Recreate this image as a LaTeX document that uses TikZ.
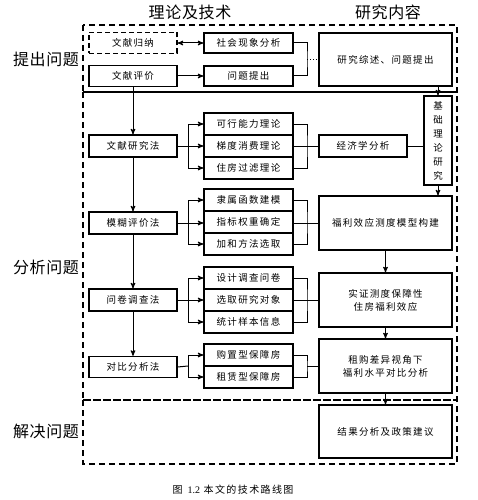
\documentclass[tikz,border=0pt]{standalone}
\usepackage{fontspec}
\setmainfont{Liberation Serif}
\newfontfamily\cjk[LetterSpace=14]{Noto Sans CJK SC}
\newfontfamily\cjkwide[LetterSpace=4]{Noto Sans CJK SC}
\newfontfamily\cjkplain{Noto Sans CJK SC}
\usetikzlibrary{arrows}

\begin{document}
\begin{tikzpicture}[x=1pt,y=-1pt,->,>=stealth',line width=1pt,
  main node/.style={rectangle,draw,line width=1.2pt,fill=white,
    font=\cjk\fontsize{9.5}{13}\selectfont,align=center,inner sep=0pt,
    minimum height=21pt},
  left node/.style={main node,minimum width=88pt},
  mid node/.style={main node,minimum width=89pt,minimum height=22pt},
  right node/.style={main node,minimum width=133pt,minimum height=54pt},
  region/.style={draw,-,dashed,line width=1.4pt,dash pattern=on 6pt off 4pt},
  side label/.style={font=\cjkwide\fontsize{16}{18}\selectfont}]

  \useasboundingbox (0,0) rectangle (478,500);

  % three stages
  \draw[region] (83,25) rectangle (457,92);
  \draw[region] (83,92) rectangle (457,400);
  \draw[region] (83,400) rectangle (457,464);

  \node[side label] (Title1) at (190,12) {理论及技术};
  \node[side label] (Title2) at (388,12) {研究内容};
  \node[side label] (Stage1) at (46,59) {提出问题};
  \node[side label] (Stage2) at (46,267) {分析问题};
  \node[side label] (Stage3) at (46,431) {解决问题};

  % left column
  \node[left node,dashed,dash pattern=on 5pt off 3pt] (LitInd) at (133,43) {文献归纳};
  \node[left node] (LitEval) at (133,76) {文献评价};
  \node[left node,minimum height=22pt] (LitRes) at (133,146) {文献研究法};
  \node[left node,minimum height=22pt] (Fuzzy) at (133,223) {模糊评价法};
  \node[left node,minimum height=22pt] (Survey) at (133,300) {问卷调查法};
  \node[left node] (Compare) at (133,367) {对比分析法};

  % middle column
  \node[mid node,minimum height=20pt] (Social) at (248.5,43) {社会现象分析};
  \node[mid node,minimum height=20pt] (Problem) at (248.5,76) {问题提出};
  \node[mid node] (Cap) at (248.5,124) {可行能力理论};
  \node[mid node] (Grad) at (248.5,146) {梯度消费理论};
  \node[mid node] (Filter) at (248.5,168) {住房过滤理论};
  \node[mid node] (Member) at (248.5,200) {隶属函数建模};
  \node[mid node] (Weight) at (248.5,222) {指标权重确定};
  \node[mid node] (Sum) at (248.5,244) {加和方法选取};
  \node[mid node] (Design) at (248.5,278) {设计调查问卷};
  \node[mid node] (Select) at (248.5,300) {选取研究对象};
  \node[mid node] (Stat) at (248.5,322) {统计样本信息};
  \node[mid node] (Buy) at (248.5,355) {购置型保障房};
  \node[mid node] (Rent) at (248.5,377) {租赁型保障房};

  % right column
  \node[right node,minimum height=53pt] (Review) at (385.5,59.5) {研究综述、问题提出};
  \node[main node,minimum width=28pt,minimum height=89pt,
    font=\cjkplain\fontsize{9.5}{14}\selectfont] (Basic) at (438,140.5)
    {基\\础\\理\\论\\研\\究};
  \node[left node,minimum height=22pt] (Econ) at (363,146) {经济学分析};
  \node[right node] (Model) at (385.5,223) {福利效应测度模型构建};
  \node[right node] (Empir) at (385.5,300) {实证测度保障性\\住房福利效应};
  \node[right node] (Diff) at (385.5,366) {租购差异视角下\\福利水平对比分析};
  \node[right node,minimum height=53pt] (Result) at (385.5,431.5) {结果分析及政策建议};

  \node[font=\cjk\fontsize{10}{12}\selectfont] (Caption) at (233,490)
    {图 \textrm{1.2} 本文的技术路线图};

  % problem stage
  \draw[<->] (LitInd) -- (Social);
  \draw (LitEval) -- (Problem);
  \coordinate (J0) at (307,59.5);
  \draw[-] (Social.east) -| (J0) |- (Problem.east);
  \draw[-,dotted] (J0) -- (Review.west);

  % method chain
  \path (LitEval) edge (LitRes)
        (LitRes) edge (Fuzzy)
        (Fuzzy) edge (Survey)
        (Survey) edge (Compare);

  % method to theory
  \coordinate (L1) at (188,146);
  \coordinate (L2) at (188,223);
  \coordinate (L3) at (188,300);
  \coordinate (L4) at (188,366);
  \draw[-] (LitRes.east) -- (L1);
  \draw (L1) |- (Cap.west);
  \draw (L1) -- (Grad.west);
  \draw (L1) |- (Filter.west);
  \draw[-] (Fuzzy.east) -- (L2);
  \draw (L2) |- (Member.west);
  \draw (L2) -- (L2 -| Weight.west);
  \draw (L2) |- (Sum.west);
  \draw[-] (Survey.east) -- (L3);
  \draw (L3) |- (Design.west);
  \draw (L3) -- (Select.west);
  \draw (L3) |- (Stat.west);
  \draw[-] (Compare.east -| LitRes.east) -- (L4);
  \draw (L4) |- (Buy.west);
  \draw (L4) |- (Rent.west);

  % theory to content
  \coordinate (R1) at (307,146);
  \coordinate (R2) at (307,223);
  \coordinate (R3) at (307,300);
  \coordinate (R4) at (307,366);
  \draw[-] (Cap.east) -| (R1) |- (Filter.east);
  \draw[-] (Grad.east) -- (Econ.west);
  \draw[-] (Member.east) -| (R2) |- (Sum.east);
  \draw[-] (Weight.east |- R2) -- (Model.west);
  \draw[-] (Design.east) -| (R3) |- (Stat.east);
  \draw[-] (Select.east) -- (Empir.west);
  \draw[-] (Buy.east) -| (R4) |- (Rent.east);
  \draw[-] (R4) -- (Diff.west);

  % content chain
  \draw[-] (Econ.east) -- (Econ.east -| Basic.west);
  \draw (Review.south -| Basic) -- (Basic.north);
  \draw (Basic.south) -- (Basic.south |- Model.north);
  \path (Model) edge (Empir)
        (Empir) edge (Diff)
        (Diff) edge (Result);
\end{tikzpicture}
\end{document}
